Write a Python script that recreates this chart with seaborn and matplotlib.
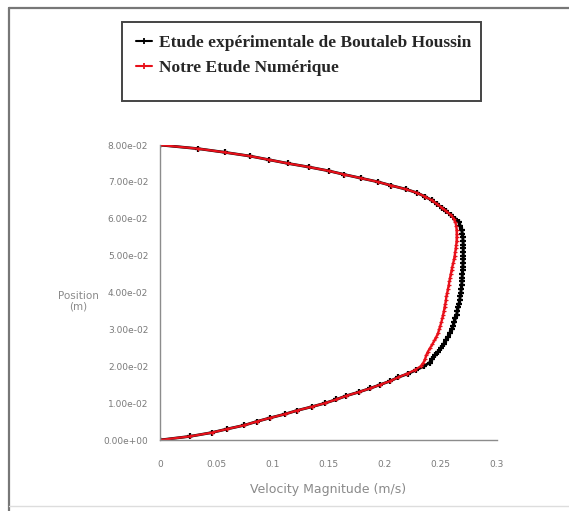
import numpy as np
import pandas as pd
import matplotlib
matplotlib.use("Agg")
import matplotlib.pyplot as plt
from matplotlib.lines import Line2D
from matplotlib.patches import Rectangle
from matplotlib.ticker import FixedLocator, AutoMinorLocator, FuncFormatter
import seaborn as sns

# Wall-normal positions (m), shared by both profiles
position = [
    0.000, 0.001, 0.002, 0.003, 0.004, 0.005, 0.006, 0.007, 0.008, 0.009,
    0.010, 0.011, 0.012, 0.013, 0.014, 0.015, 0.016, 0.017, 0.018, 0.019,
    0.020, 0.021, 0.022, 0.023, 0.024, 0.025, 0.026, 0.027, 0.028, 0.029,
    0.030, 0.031, 0.032, 0.033, 0.034, 0.035, 0.036, 0.037, 0.038, 0.039,
    0.040, 0.041, 0.042, 0.043, 0.044, 0.045, 0.046, 0.047, 0.048, 0.049,
    0.050, 0.051, 0.052, 0.053, 0.054, 0.055, 0.056, 0.057, 0.058, 0.059,
    0.060, 0.061, 0.062, 0.063, 0.064, 0.065, 0.066, 0.067, 0.068, 0.069,
    0.070, 0.071, 0.072, 0.073, 0.074, 0.075, 0.076, 0.077, 0.078, 0.079,
    0.080,
]

# Experimental velocity magnitude (m/s)
velocity_exp = [
    0.000, 0.027, 0.046, 0.060, 0.075, 0.086, 0.098, 0.111, 0.122, 0.135,
    0.147, 0.157, 0.166, 0.177, 0.187, 0.196, 0.205, 0.212, 0.221, 0.228,
    0.235, 0.240, 0.2425, 0.245, 0.2475, 0.250, 0.2525, 0.2545, 0.2565, 0.258,
    0.2595, 0.261, 0.262, 0.263, 0.264, 0.2648, 0.2655, 0.2662, 0.2668, 0.2673,
    0.2678, 0.2682, 0.2685, 0.2688, 0.269, 0.2692, 0.2694, 0.2696, 0.2698, 0.270,
    0.270, 0.270, 0.270, 0.270, 0.2698, 0.2695, 0.2692, 0.2685, 0.2675, 0.266,
    0.263, 0.259, 0.255, 0.251, 0.2465, 0.242, 0.236, 0.229, 0.219, 0.206,
    0.194, 0.179, 0.164, 0.150, 0.133, 0.114, 0.097, 0.080, 0.058, 0.034,
    0.000,
]

# Numerical velocity magnitude (m/s)
velocity_num = [
    0.000, 0.027, 0.046, 0.060, 0.075, 0.086, 0.098, 0.111, 0.122, 0.135,
    0.147, 0.157, 0.166, 0.177, 0.187, 0.196, 0.205, 0.212, 0.220, 0.227,
    0.232, 0.2345, 0.236, 0.237, 0.2385, 0.2405, 0.2425, 0.2443, 0.246, 0.2475,
    0.2485, 0.2495, 0.2505, 0.2513, 0.252, 0.2527, 0.2533, 0.254, 0.2545, 0.255,
    0.2557, 0.2563, 0.257, 0.2576, 0.2582, 0.2588, 0.2595, 0.2602, 0.261, 0.2617,
    0.2623, 0.2628, 0.2633, 0.2637, 0.264, 0.2641, 0.2641, 0.264, 0.2637, 0.263,
    0.2615, 0.259, 0.255, 0.251, 0.2465, 0.242, 0.236, 0.229, 0.219, 0.206,
    0.194, 0.179, 0.164, 0.150, 0.133, 0.114, 0.097, 0.080, 0.058, 0.034,
    0.000,
]

label_exp = "Etude expérimentale de Boutaleb Houssin"
label_num = "Notre Etude Numérique"

x_ticks = [0, 0.05, 0.1, 0.15, 0.2, 0.25, 0.3]
x_tick_labels = ["0", "0.05", "0.1", "0.15", "0.2", "0.25", "0.3"]
y_ticks = [0.00, 0.01, 0.02, 0.03, 0.04, 0.05, 0.06, 0.07, 0.08]

df_exp = pd.DataFrame({"velocity": velocity_exp, "position": position})
df_num = pd.DataFrame({"velocity": velocity_num, "position": position})

sns.set_theme(style="white")
plt.rcParams["font.family"] = ["DejaVu Sans"]

W, H = 569, 511
fig = plt.figure(figsize=(W / 100, H / 100), dpi=100)
fig.patch.set_facecolor("white")

ax = fig.add_axes([160 / W, 1 - 440 / H, (497 - 160) / W, (440 - 145) / H])
ax.set_facecolor("white")

red = "#e8101a"
sns.lineplot(data=df_exp, x="velocity", y="position", sort=False, estimator=None,
             color="black", lw=2.0, marker="+", markersize=4.2, markeredgewidth=1.6,
             markeredgecolor="black", ax=ax, legend=False)
sns.lineplot(data=df_num, x="velocity", y="position", sort=False, estimator=None,
             color=red, lw=1.6, marker="+", markersize=3, markeredgewidth=0.9,
             markeredgecolor=red, ax=ax, legend=False)

ax.set_xlim(0, 0.3)
ax.set_ylim(0, 0.08)

grey = "#8c8c8c"
for side in ["top", "right"]:
    ax.spines[side].set_visible(False)
for side in ["left", "bottom"]:
    ax.spines[side].set_color(grey)
    ax.spines[side].set_linewidth(1.0)

ax.xaxis.set_major_locator(FixedLocator(x_ticks))
ax.set_xticklabels(x_tick_labels)
ax.yaxis.set_major_locator(FixedLocator(y_ticks))
ax.yaxis.set_major_formatter(FuncFormatter(lambda v, p: f"{v:.2e}"))
ax.xaxis.set_minor_locator(AutoMinorLocator(2))
ax.yaxis.set_minor_locator(AutoMinorLocator(5))
ax.tick_params(which="major", direction="inout", length=5, width=1, color=grey,
               labelcolor="#7a7a7a", labelsize=6.5)
ax.tick_params(which="minor", direction="inout", length=3, width=0.8, color=grey)
ax.tick_params(axis="y", which="major", pad=6)
ax.tick_params(axis="x", which="major", pad=12)

ax.set_xlabel("Velocity Magnitude (m/s)", color="#8a8a8a", fontsize=9, labelpad=10)
ax.set_ylabel("")
fig.text(78 / W, 1 - 301 / H, "Position\n(m)", ha="center", va="center",
         color="#8a8a8a", fontsize=7.5, linespacing=1.0)

# Legend: frame drawn as a rectangle, entries via a frameless legend
fig.add_artist(Rectangle((122 / W, 1 - 101 / H), (481 - 122) / W, (101 - 22) / H,
                         transform=fig.transFigure, facecolor="white",
                         edgecolor="#444444", lw=1.4, zorder=2))
handles = [
    Line2D([], [], color="black", lw=1.5, marker="+", markersize=5, markeredgewidth=1.3),
    Line2D([], [], color=red, lw=1.5, marker="+", markersize=5, markeredgewidth=1.3),
]
leg = fig.legend(handles, [label_exp, label_num], loc="upper left",
                 bbox_to_anchor=(136 / W, 1 - 35 / H), bbox_transform=fig.transFigure,
                 frameon=False, handlelength=0.9, handletextpad=0.4,
                 borderpad=0, labelspacing=0.5, borderaxespad=0,
                 prop={"family": "Liberation Serif", "weight": "bold", "size": 12.5})
leg.set_zorder(3)

# Page frame
fig.add_artist(Line2D([9 / W, 9 / W], [0, 1 - 8 / H], color="#777777", lw=1.6,
                      transform=fig.transFigure))
fig.add_artist(Line2D([9 / W, 1], [1 - 8 / H, 1 - 8 / H], color="#777777", lw=1.6,
                      transform=fig.transFigure))
fig.add_artist(Line2D([9 / W, 1], [1 - 506 / H, 1 - 506 / H], color="#dddddd", lw=1.0,
                      transform=fig.transFigure))

fig.savefig("out.png", dpi=100, facecolor="white")
